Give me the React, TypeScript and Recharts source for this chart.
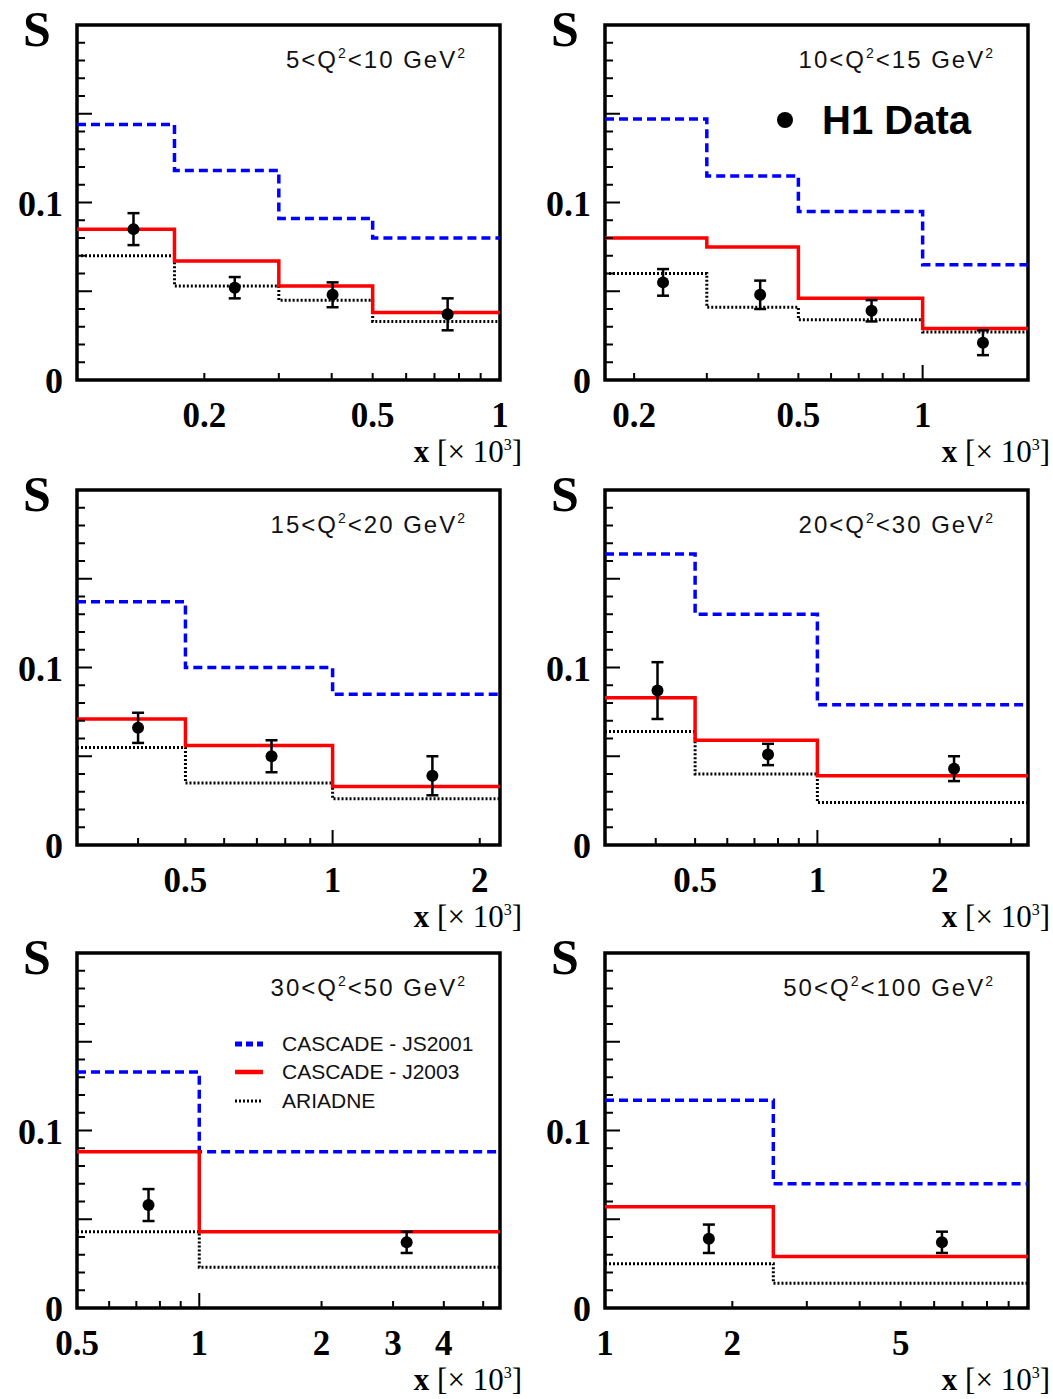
import React from "react";
import {
  ComposedChart,
  ErrorBar,
  Line,
  ReferenceArea,
  Scatter,
  XAxis,
  YAxis,
} from "recharts";

// Q^2 bins, one panel each
const qLow = [5, 10, 15, 20, 30, 50];
const qHigh = [10, 15, 20, 30, 50, 100];

// x range (x 10^-3) shown in each panel, log scale
const xDomains: [number, number][] = [
  [0.1, 1],
  [0.17, 1.8],
  [0.3, 2.2],
  [0.3, 3.3],
  [0.5, 5.5],
  [1, 10],
];

const binEdges = [
  [0.1, 0.17, 0.3, 0.5, 1],
  [0.17, 0.3, 0.5, 1, 1.8],
  [0.3, 0.5, 1, 2.2],
  [0.3, 0.5, 1, 3.3],
  [0.5, 1, 5.5],
  [1, 2.5, 10],
];

const cascadeJS2001 = [
  [0.144, 0.118, 0.091, 0.08],
  [0.147, 0.115, 0.095, 0.065],
  [0.137, 0.1, 0.085],
  [0.164, 0.13, 0.079],
  [0.133, 0.088],
  [0.117, 0.07],
];

const cascadeJ2003 = [
  [0.085, 0.067, 0.053, 0.038],
  [0.08, 0.075, 0.046, 0.029],
  [0.071, 0.056, 0.033],
  [0.083, 0.059, 0.039],
  [0.088, 0.043],
  [0.057, 0.029],
];

const ariadne = [
  [0.07, 0.053, 0.045, 0.033],
  [0.06, 0.041, 0.034, 0.027],
  [0.055, 0.035, 0.026],
  [0.064, 0.04, 0.024],
  [0.043, 0.023],
  [0.025, 0.014],
];

// H1 data points
const h1X = [
  [0.136, 0.236, 0.402, 0.752],
  [0.235, 0.404, 0.752, 1.4],
  [0.4, 0.75, 1.6],
  [0.404, 0.756, 2.17],
  [0.75, 3.24],
  [1.76, 6.26],
];
const h1S = [
  [0.085, 0.052, 0.048, 0.037],
  [0.055, 0.048, 0.039, 0.021],
  [0.066, 0.05, 0.039],
  [0.087, 0.051, 0.043],
  [0.058, 0.037],
  [0.039, 0.037],
];
const h1Err = [
  [0.009, 0.006, 0.007, 0.009],
  [0.0075, 0.008, 0.006, 0.007],
  [0.0085, 0.009, 0.011],
  [0.016, 0.006, 0.007],
  [0.009, 0.006],
  [0.008, 0.006],
];

const xTickLabels = [
  [0.2, 0.5, 1],
  [0.2, 0.5, 1],
  [0.5, 1, 2],
  [0.5, 1, 2],
  [0.5, 1, 2, 3, 4],
  [1, 2, 5],
];
const yTickLabels = [0, 0.1];

const BLUE = "#0000ff";
const RED = "#ff0000";
const SERIF = "'Liberation Serif', 'DejaVu Serif', serif";
const SANS = "'Liberation Sans', Arial, sans-serif";

const W = 525;
const H = 470;
// axes are 1px thick, so the plot box is 77..500 x 25..380 inside each chart
const M = { top: 25, right: 25, bottom: 89, left: 76 };
const PLOT_LEFT = 77;
const PW = 423;
const PH = 355;
const colLeft = [0, 528];
const rowTop = [0, 465, 928];

const yTicks = Array.from({ length: 21 }, (_, k) => Number((k * 0.01).toFixed(2)));

function logTicks([lo, hi]: [number, number]) {
  const out: number[] = [];
  for (let d = Math.floor(Math.log10(lo)); d <= Math.ceil(Math.log10(hi)); d++) {
    for (let k = 1; k <= 9; k++) {
      const v = Number((k * Math.pow(10, d)).toPrecision(3));
      if (v >= lo - 1e-9 && v <= hi + 1e-9) out.push(v);
    }
  }
  return out;
}

const isDecade = (v: number) => Math.abs(Math.log10(v) - Math.round(Math.log10(v))) < 1e-6;

function steps(edges: number[], vals: number[]) {
  return edges.map((x, j) => ({ x, y: vals[Math.min(j, vals.length - 1)] }));
}

function XTick(props: any) {
  const { x, y, payload, labels } = props;
  const v = payload.value as number;
  const lab = (labels as number[]).find((l) => Math.abs(l - v) < 1e-6);
  return (
    <g>
      <line x1={x} x2={x} y1={y} y2={y - (isDecade(v) ? 15 : 7)} stroke="#000" strokeWidth={2} />
      {lab !== undefined && (
        <text x={x} y={y + 47} textAnchor="middle" fontFamily={SERIF} fontWeight="bold" fontSize={35} fill="#000">
          {String(lab)}
        </text>
      )}
    </g>
  );
}

function YTick(props: any) {
  const { x, y, payload } = props;
  const v = payload.value as number;
  const major = Math.round(v * 100) % 5 === 0;
  const lab = yTickLabels.find((l) => Math.abs(l - v) < 1e-6);
  return (
    <g>
      <line x1={x} x2={x + (major ? 15 : 8)} y1={y} y2={y} stroke="#000" strokeWidth={2} />
      {lab !== undefined && (
        <text x={x - 14} y={y + 13} textAnchor="end" fontFamily={SERIF} fontWeight="bold" fontSize={36} fill="#000">
          {String(lab)}
        </text>
      )}
    </g>
  );
}

const DataDot = (p: any) => <circle cx={p.cx} cy={p.cy} r={6} fill="#000" />;

function Panel({ i }: { i: number }) {
  const dom = xDomains[i];
  const labels = xTickLabels[i];
  const pts = h1X[i].map((x, j) => ({ x, y: h1S[i][j], e: h1Err[i][j] }));
  return (
    <div style={{ position: "absolute", left: colLeft[i % 2], top: rowTop[Math.floor(i / 2)] }}>
      <ComposedChart width={W} height={H} margin={M}>
        <XAxis
          dataKey="x"
          type="number"
          scale="log"
          domain={dom}
          allowDataOverflow
          ticks={logTicks(dom)}
          interval={0}
          height={1}
          axisLine={false}
          tickLine={false}
          tickSize={0}
          tickMargin={0}
          tick={(p: any) => <XTick {...p} labels={labels} />}
        />
        <YAxis
          type="number"
          domain={[0, 0.2]}
          allowDataOverflow
          ticks={yTicks}
          interval={0}
          width={1}
          axisLine={false}
          tickLine={false}
          tickSize={0}
          tickMargin={0}
          tick={(p: any) => <YTick {...p} />}
        />
        <Line
          data={steps(binEdges[i], cascadeJS2001[i])}
          dataKey="y"
          type="stepAfter"
          stroke={BLUE}
          strokeWidth={3.5}
          strokeDasharray="9 5"
          dot={false}
          activeDot={false}
          isAnimationActive={false}
        />
        <Line
          data={steps(binEdges[i], ariadne[i])}
          dataKey="y"
          type="stepAfter"
          stroke="#000"
          strokeWidth={3}
          strokeDasharray="2 2"
          dot={false}
          activeDot={false}
          isAnimationActive={false}
        />
        <Line
          data={steps(binEdges[i], cascadeJ2003[i])}
          dataKey="y"
          type="stepAfter"
          stroke={RED}
          strokeWidth={3.5}
          dot={false}
          activeDot={false}
          isAnimationActive={false}
        />
        <Scatter data={pts} dataKey="y" fill="#000" shape={DataDot} isAnimationActive={false}>
          <ErrorBar dataKey="e" direction="y" width={6} stroke="#000" strokeWidth={2.5} isAnimationActive={false} />
        </Scatter>
        <ReferenceArea
          x1={dom[0]}
          x2={dom[1]}
          y1={0}
          y2={0.2}
          fill="none"
          fillOpacity={0}
          stroke="#000"
          strokeWidth={3.5}
          ifOverflow="visible"
        />
      </ComposedChart>
    </div>
  );
}

function Overlay() {
  const items: React.ReactNode[] = [];
  qLow.forEach((lo, i) => {
    const L = colLeft[i % 2] + PLOT_LEFT;
    const T = rowTop[Math.floor(i / 2)] + M.top;
    const R = L + PW;
    const B = T + PH;
    items.push(
      <g key={i}>
        <text x={L - 40} y={T + 21} textAnchor="middle" fontFamily={SERIF} fontWeight="bold" fontSize={50}>
          S
        </text>
        <text x={R - 33} y={T + 43} textAnchor="end" fontFamily={SANS} fontSize={24} letterSpacing={2} fill="#111">
          {lo}&lt;Q
          <tspan dy={-10} fontSize={14}>2</tspan>
          <tspan dy={10}>&lt;{qHigh[i]} GeV</tspan>
          <tspan dy={-10} fontSize={14}>2</tspan>
        </text>
        <text x={R + 22} y={B + 82} textAnchor="end" fontFamily={SERIF} fontSize={31} fill="#000">
          <tspan fontWeight="bold">x</tspan>
          <tspan> [× 10</tspan>
          <tspan dy={-12} fontSize={16}>3</tspan>
          <tspan dy={12}>]</tspan>
        </text>
      </g>
    );
  });

  // H1 data marker (panel 2)
  const hL = colLeft[1] + PLOT_LEFT;
  const hT = rowTop[0] + M.top;
  // MC legend (panel 5)
  const gL = colLeft[0] + PLOT_LEFT;
  const gT = rowTop[2] + M.top;
  const legend = [
    { name: "CASCADE - JS2001", stroke: BLUE, dash: "7 4", w: 5 },
    { name: "CASCADE - J2003", stroke: RED, dash: undefined, w: 4.5 },
    { name: "ARIADNE", stroke: "#000", dash: "2 2", w: 3 },
  ];
  const legendY = [91, 119, 148];

  return (
    <svg
      width={1053}
      height={1399}
      style={{ position: "absolute", left: 0, top: 0, pointerEvents: "none" }}
    >
      {items}
      <circle cx={hL + 180} cy={hT + 95} r={8} fill="#000" />
      <text x={hL + 217} y={hT + 109} fontFamily={SANS} fontWeight="bold" fontSize={40} fill="#000">
        H1 Data
      </text>
      {legend.map((e, k) => (
        <g key={e.name}>
          <line
            x1={gL + 158}
            x2={gL + 186}
            y1={gT + legendY[k]}
            y2={gT + legendY[k]}
            stroke={e.stroke}
            strokeWidth={e.w}
            strokeDasharray={e.dash}
          />
          <text x={gL + 205} y={gT + legendY[k] + 7} fontFamily={SANS} fontSize={21} fill="#111">
            {e.name}
          </text>
        </g>
      ))}
    </svg>
  );
}

export default function App() {
  return (
    <div style={{ position: "absolute", left: 0, top: 0, width: 1053, height: 1399, background: "#fff" }}>
      {qLow.map((_, i) => (
        <Panel key={i} i={i} />
      ))}
      <Overlay />
    </div>
  );
}
